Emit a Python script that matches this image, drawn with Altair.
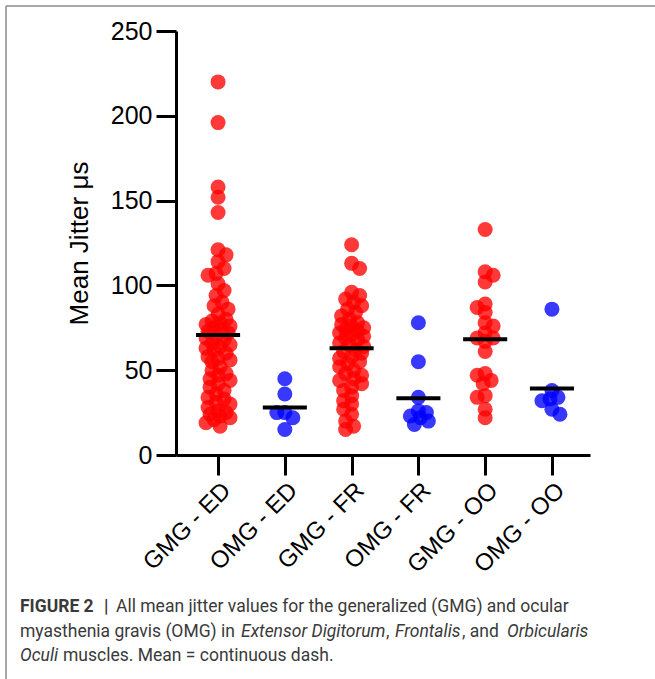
import altair as alt
import pandas as pd

# ---------------- data ----------------
groups = ["GMG - ED", "OMG - ED", "GMG - FR", "OMG - FR", "GMG - OO", "OMG - OO"]
cohorts = ["GMG", "OMG", "GMG", "OMG", "GMG", "OMG"]

gmg_ed = [220, 196, 158, 152, 143, 121, 118, 114, 110, 107, 106, 101, 97, 94, 90, 88,
          86, 83, 80, 79, 78, 77, 76, 75, 74, 73, 72, 70, 69, 68, 66, 65, 64, 63, 62,
          60, 58, 57, 56, 55, 52, 50, 48, 47, 45, 44, 42, 40, 38, 36, 34, 33, 31, 30,
          28, 26, 25, 24, 23, 22, 21, 19, 17]
omg_ed = [45, 36, 25, 25, 22, 15]
gmg_fr = [124, 113, 110, 96, 94, 92, 90, 88, 86, 84, 82, 80, 78, 77, 76, 75, 74, 73,
          72, 71, 70, 69, 68, 66, 65, 64, 62, 61, 60, 58, 57, 55, 54, 52, 50, 48, 47,
          45, 44, 42, 40, 38, 35, 32, 30, 27, 24, 20, 17, 15]
omg_fr = [78, 55, 34, 26, 25, 23, 22, 20, 18]
gmg_oo = [133, 108, 106, 102, 89, 87, 84, 78, 76, 72, 69, 69, 67, 61, 48, 47, 44, 42,
          35, 34, 27, 22]
omg_oo = [86, 38, 34, 33, 32, 27, 24]

series = [gmg_ed, omg_ed, gmg_fr, omg_fr, gmg_oo, omg_oo]
y_ticks = [0, 50, 100, 150, 200, 250]

# ---------------- layout ----------------
W, H = 414, 424
LEFT, TOP = 176, 31
X_MIN, X_MAX = -0.63, 5.57
PX_PER_CAT = W / (X_MAX - X_MIN)
PX_PER_VAL = H / 250.0


def swarm(vals, min_dist=8.0, step=2.0, max_off=13.0):
    """Deterministic beeswarm offsets (in px) so dots spread like a scatter dot plot."""
    n = int(max_off / step)
    cands = [k * step for k in range(-n, n + 1)]
    placed = []
    offs = [0.0] * len(vals)
    order = sorted(range(len(vals)), key=lambda i: -vals[i])
    for rank, i in enumerate(order):
        y = vals[i] * PX_PER_VAL
        sgn = 1 if rank % 2 else -1
        ordered = sorted(cands, key=lambda o: (abs(o), sgn * o))
        best = None
        for o in ordered:
            if all((o - px) ** 2 + (y - py) ** 2 >= min_dist ** 2 for px, py in placed):
                best = o
                break
        if best is None:
            best = max(ordered, key=lambda o: min((o - px) ** 2 + (y - py) ** 2 for px, py in placed))
        placed.append((best, y))
        offs[i] = best
    return offs


rows = []
for gi, vals in enumerate(series):
    offs = swarm(vals)
    for v, o in zip(vals, offs):
        rows.append({"group": groups[gi], "cohort": cohorts[gi], "idx": gi,
                     "xpos": gi + o / PX_PER_CAT, "value": v})
df = pd.DataFrame(rows)

FONT = "Liberation Sans"
xscale = alt.Scale(domain=[X_MIN, X_MAX], nice=False, zero=False)
yscale = alt.Scale(domain=[0, 250], nice=False)
label_expr = "[" + ",".join("'" + g + "'" for g in groups) + "][datum.value]"

points = alt.Chart(df).mark_circle(size=225, opacity=0.78).encode(
    x=alt.X("xpos:Q", scale=xscale,
            axis=alt.Axis(values=list(range(len(groups))), labelExpr=label_expr,
                          labelAngle=-45, labelFontSize=24, labelFont=FONT,
                          labelColor="black", tickSize=20, tickWidth=3, tickColor="black",
                          domainWidth=3, domainColor="black", labelPadding=3,
                          labelOverlap=False, grid=False, title=None)),
    y=alt.Y("value:Q", scale=yscale,
            axis=alt.Axis(values=y_ticks, labelFontSize=25, labelFont=FONT,
                          labelColor="black", tickSize=20, tickWidth=3, tickColor="black",
                          domainWidth=3, domainColor="black", labelPadding=4, grid=False,
                          labelOverlap=False,
                          title="Mean Jitter μs", titleFont=FONT, titleFontSize=26,
                          titleFontWeight="normal", titleColor="black", titlePadding=18)),
    color=alt.Color("cohort:N", scale=alt.Scale(domain=["GMG", "OMG"],
                                                range=["#ff0000", "#0000ff"]), legend=None),
)

means = alt.Chart(df).transform_aggregate(
    m="mean(value)", groupby=["idx"]
).transform_calculate(
    x1="datum.idx - 0.33", x2="datum.idx + 0.33"
).mark_rule(color="black", strokeWidth=4).encode(
    x=alt.X("x1:Q", scale=xscale), x2="x2:Q", y=alt.Y("m:Q", scale=yscale)
)

one = alt.Data(values=[{"a": 1}])

# figure frame (left and top border)
frame_left = alt.Chart(one).mark_rule(color="#8a8a8a", strokeWidth=1.5).encode(
    x=alt.value(6 - LEFT), y=alt.value(6 - TOP), y2=alt.value(679 - TOP))
frame_top = alt.Chart(one).mark_rule(color="#8a8a8a", strokeWidth=1.5).encode(
    y=alt.value(6 - TOP), x=alt.value(6 - LEFT), x2=alt.value(655 - LEFT))

# caption segments: (text, x, y, weight, style)
CAP_COLOR = "#3a3a3a"
CAP_FONT = "Roboto"
CAP_SIZE = 17.5
segments = [
    ("FIGURE 2", 20, 607, "bold", "normal"),
    ("|", 104, 607, "bold", "normal"),
    ("All mean jitter values for the generalized (GMG) and ocular", 116, 607, "normal", "normal"),
    ("myasthenia gravis (OMG) in", 20, 632, "normal", "normal"),
    ("Extensor Digitorum", 241, 632, "normal", "italic"),
    (",", 386, 632, "normal", "normal"),
    ("Frontalis", 395, 632, "normal", "italic"),
    (", and", 462, 632, "normal", "normal"),
    ("Orbicularis", 507, 632, "normal", "italic"),
    ("Oculi", 20, 656, "normal", "italic"),
    ("muscles. Mean = continuous dash.", 63, 656, "normal", "normal"),
]
caption_layers = []
for txt, x, y, w, st in segments:
    caption_layers.append(
        alt.Chart(one).mark_text(text=txt, align="left", baseline="middle", font=CAP_FONT,
                                 fontSize=CAP_SIZE, fontWeight=w, fontStyle=st,
                                 color=CAP_COLOR).encode(
            x=alt.value(x - LEFT), y=alt.value(y - TOP))
    )

chart = alt.layer(points, means, frame_left, frame_top, *caption_layers).properties(
    width=W, height=H,
    autosize=alt.AutoSizeParams(type="none"),
    padding={"left": LEFT, "top": TOP, "right": 655 - LEFT - W, "bottom": 679 - TOP - H},
    background="white",
).configure_view(stroke=None)

chart.save("out.html", embed_options={"renderer": "svg", "actions": False})
